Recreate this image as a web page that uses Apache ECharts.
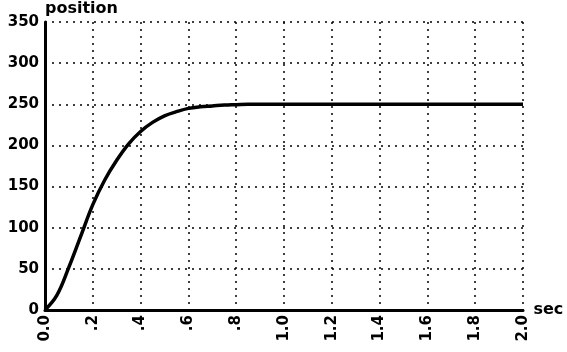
<!DOCTYPE html>
<html><head><meta charset="utf-8">
<script src="https://cdn.jsdelivr.net/npm/echarts@6/dist/echarts.min.js"></script>
<style>html,body{margin:0;padding:0;background:#fff}#c{width:567px;height:352px}</style>
</head><body><div id="c"></div>
<script>
const times = [0, 0.05, 0.1, 0.15, 0.2, 0.25, 0.3, 0.35, 0.4, 0.45, 0.5, 0.55, 0.6, 0.65, 0.7, 0.75, 0.8, 0.85, 0.9, 0.95, 1.0, 1.2, 1.4, 1.6, 1.8, 2.0];
const positions = [0, 18, 52, 90, 128, 158, 182, 202, 217, 228, 236, 241, 245, 247, 248, 249, 249.5, 250, 250, 250, 250, 250, 250, 250, 250, 250];
const xTickLabels = ['0.0', '.2', '.4', '.6', '.8', '1.0', '1.2', '1.4', '1.6', '1.8', '2.0'];
const yTickLabels = ['0', '50', '100', '150', '200', '250', '300', '350'];
const xName = 'sec';
const yName = 'position';

const chart = echarts.init(document.getElementById('c'), null, {renderer: 'canvas'});
const font = 'DejaVu Sans';
chart.setOption({
  animation: false,
  backgroundColor: '#fff',
  grid: {left: 45, right: 44, top: 22, bottom: 42, containLabel: false},
  xAxis: {
    type: 'value', min: 0, max: 2, interval: 0.2,
    name: xName, nameLocation: 'end', nameGap: 8,
    nameTextStyle: {color: '#000', fontFamily: font, fontWeight: 'bold', fontSize: 16, verticalAlign: 'middle'},
    axisLine: {show: true, lineStyle: {color: '#000', width: 3}},
    axisTick: {show: false},
    axisLabel: {
      rotate: 90, color: '#000', fontFamily: font, fontWeight: 'bold', fontSize: 15, margin: 5,
      formatter: v => xTickLabels[Math.round(v / 0.2)]
    },
    splitLine: {show: true, lineStyle: {color: '#000', type: [2, 5], width: 1.5}}
  },
  yAxis: {
    type: 'value', min: 0, max: 350, interval: 50,
    name: yName, nameLocation: 'end', nameGap: 5,
    nameTextStyle: {color: '#000', fontFamily: font, fontWeight: 'bold', fontSize: 16, align: 'left', padding: [0, 0, 0, 0]},
    axisLine: {show: true, lineStyle: {color: '#000', width: 3}},
    axisTick: {show: false},
    axisLabel: {
      color: '#000', fontFamily: font, fontWeight: 'bold', fontSize: 15, margin: 6,
      formatter: v => yTickLabels[Math.round(v / 50)]
    },
    splitLine: {show: true, lineStyle: {color: '#000', type: [2, 5], width: 1.5}}
  },
  series: [{
    type: 'line', smooth: 0.4, symbol: 'none',
    data: times.map((t, i) => [t, positions[i]]),
    lineStyle: {color: '#000', width: 3.5}
  }]
});
</script></body></html>
